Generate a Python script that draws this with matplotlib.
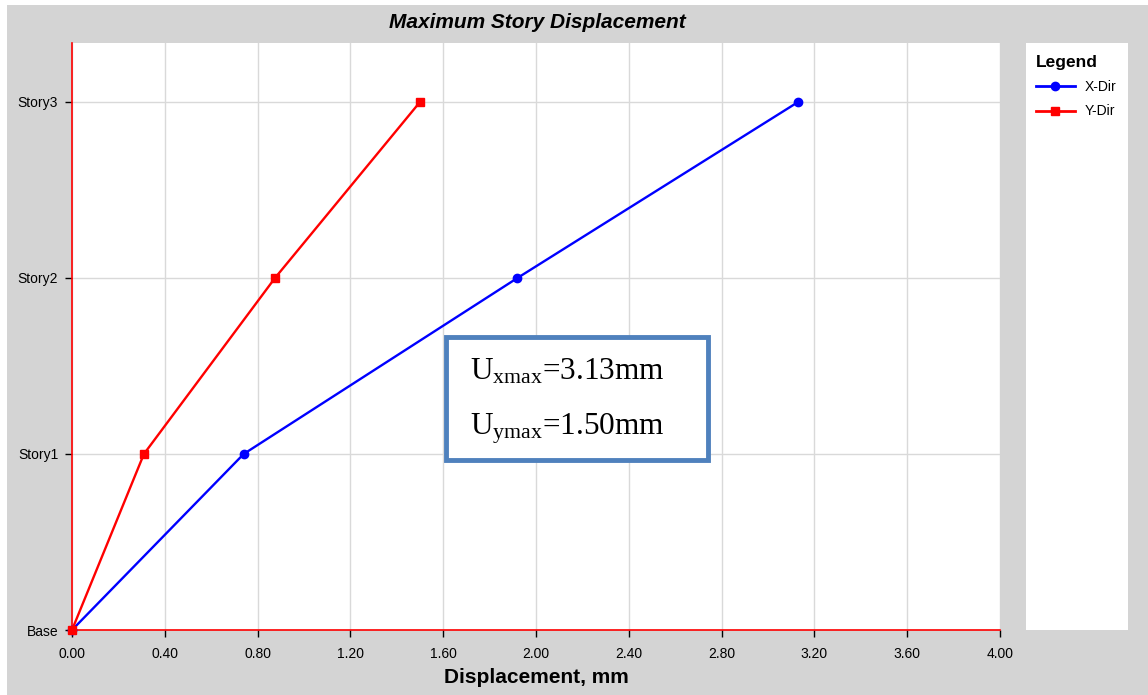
import matplotlib
matplotlib.use("Agg")
import matplotlib.pyplot as plt
from matplotlib.patches import Rectangle

stories = ["Base", "Story1", "Story2", "Story3"]
x_dir = [0.0, 0.74, 1.92, 3.13]
y_dir = [0.0, 0.31, 0.875, 1.50]
x_ticks = [0.0, 0.4, 0.8, 1.2, 1.6, 2.0, 2.4, 2.8, 3.2, 3.6, 4.0]
x_tick_labels = ["0.00", "0.40", "0.80", "1.20", "1.60", "2.00", "2.40", "2.80", "3.20", "3.60", "4.00"]

plt.rcParams['font.family'] = ['Liberation Sans', 'DejaVu Sans']
plt.rcParams['mathtext.fontset'] = 'custom'
plt.rcParams['mathtext.rm'] = 'Liberation Serif'
plt.rcParams['mathtext.it'] = 'Liberation Serif'

W, H = 1148, 695
fig = plt.figure(figsize=(W / 100, H / 100), dpi=100)
fig.patch.set_facecolor('white')
fig.patches.append(Rectangle((7 / W, 0), 1, 1 - 5 / H, transform=fig.transFigure,
                             facecolor='#d4d4d4', edgecolor='none', zorder=-10))

def fx(px):
    return px / W

def fy(py):
    return 1 - py / H

ax = fig.add_axes([fx(72), fy(630), fx(1000) - fx(72), fy(43) - fy(630)])
ax.set_facecolor('white')
ypos = list(range(len(stories)))
ax.plot(x_dir, ypos, color='#0000ff', lw=1.7, marker='o', ms=6, label='X-Dir', zorder=3, clip_on=False)
ax.plot(y_dir, ypos, color='#ff0000', lw=1.7, marker='s', ms=6, label='Y-Dir', zorder=4, clip_on=False)
ax.set_xlim(0, 4.0)
ax.set_ylim(0, 3.335)
ax.set_xticks(x_ticks)
ax.set_xticklabels(x_tick_labels, fontsize=10)
ax.set_yticks(ypos)
ax.set_yticklabels(stories, fontsize=10)
ax.grid(True, color='#d9d9d9', lw=1)
ax.set_axisbelow(True)
for s in ['top', 'right']:
    ax.spines[s].set_visible(False)
for s in ['left', 'bottom']:
    ax.spines[s].set_color('#ff0000')
    ax.spines[s].set_linewidth(1.2)
ax.tick_params(direction='out', length=5, width=1, color='black')
ax.tick_params(axis='x', pad=7)
ax.tick_params(axis='y', pad=5)
ax.set_xlabel('Displacement, mm', fontsize=15, fontweight='bold', labelpad=5)

fig.text(fx(537), fy(22), 'Maximum Story Displacement', ha='center', va='center',
         fontsize=15, fontweight='bold', fontstyle='italic')

# annotation box
fig.patches.append(Rectangle((fx(446), fy(460)), fx(708) - fx(446), fy(337) - fy(460),
                             transform=fig.transFigure, facecolor='white',
                             edgecolor='#4f81bd', lw=3.5, zorder=5))
fig.text(fx(470), fy(379), r'U$_{\mathrm{xmax}}$=3.13mm', fontsize=22.5,
         family='Liberation Serif', ha='left', va='baseline', zorder=6)
fig.text(fx(470), fy(435), r'U$_{\mathrm{ymax}}$=1.50mm', fontsize=22.5,
         family='Liberation Serif', ha='left', va='baseline', zorder=6)

# legend panel
lax = fig.add_axes([fx(1026), fy(630), fx(1128) - fx(1026), fy(43) - fy(630)])
lax.set_facecolor('white')
lax.set_xticks([]); lax.set_yticks([])
for s in lax.spines.values():
    s.set_visible(False)
h, l = ax.get_legend_handles_labels()
leg = lax.legend(h, l, loc='upper left', title='Legend', frameon=False, fontsize=10,
                 handlelength=2.8, borderaxespad=0.0, bbox_to_anchor=(0.07, 0.985),
                 alignment='left', labelspacing=0.75, handletextpad=0.7, borderpad=0.2)
leg.get_title().set_fontsize(12.5)
leg.get_title().set_fontweight('bold')
for lh in leg.legend_handles:
    lh.set_markersize(6)
    lh.set_linewidth(2)

fig.savefig('out.png', dpi=100, facecolor=fig.get_facecolor())
